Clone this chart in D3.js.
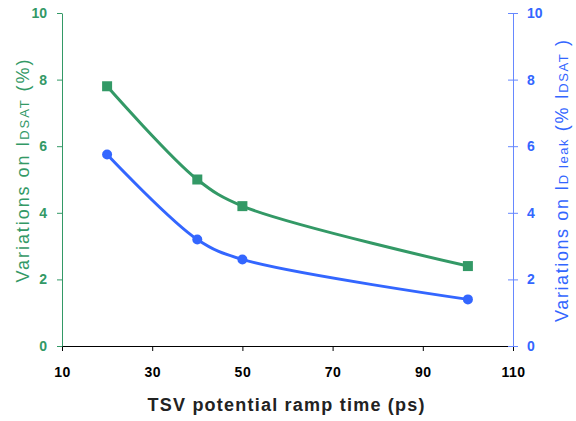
<!DOCTYPE html>
<html>
<head>
<meta charset="utf-8">
<script src="https://cdn.jsdelivr.net/npm/d3@7"></script>
<style>
  body { margin: 0; background: #fff; }
  text { font-family: Arial, "Liberation Sans", Helvetica, sans-serif; }
</style>
</head>
<body>
<svg id="chart"></svg>
<script>
const rampTimes = [20, 40, 50, 100]
const idsatVariation = [7.8, 5.0, 4.2, 2.4]
const ileakVariation = [5.75, 3.2, 2.6, 1.4]
const xTicks = [10, 30, 50, 70, 90, 110]
const yTicks = [0, 2, 4, 6, 8, 10]

const color_green = "#339966"
const color_blue = "#3366ff"
const color_blueAxis = "#6688ff"

const width = 576, height = 421
const margin = { top: 13, right: 63, bottom: 75, left: 62 }

const svg = d3.select("svg#chart")
    .attr("width", width)
    .attr("height", height)

const x = d3.scaleLinear().domain([10, 110]).range([margin.left, width - margin.right])
const yLeft = d3.scaleLinear().domain([0, 10]).range([height - margin.bottom, margin.top])
const yRight = d3.scaleLinear().domain([0, 10]).range(yLeft.range())

const y0 = yLeft(0)

// x axis
const xAxis = svg.append("g")
    .attr("transform", `translate(0,${y0})`)
    .call(d3.axisBottom(x).tickValues(xTicks).tickSize(5).tickPadding(16).tickSizeOuter(0))
xAxis.select(".domain").attr("stroke", "#000")
xAxis.selectAll(".tick line").attr("stroke", "#000")
xAxis.selectAll(".tick text")
    .style("font-size", "14px").style("font-weight", "bold").style("letter-spacing", "0.5px").attr("fill", "#000")

// left axis
const leftAxis = svg.append("g")
    .attr("transform", `translate(${margin.left},0)`)
    .call(d3.axisLeft(yLeft).tickValues(yTicks).tickSize(5).tickPadding(10).tickSizeOuter(0))
leftAxis.selectAll(".domain, .tick line").attr("stroke", color_green)
leftAxis.selectAll(".tick text")
    .style("font-size", "14px").style("font-weight", "bold").attr("fill", color_green)

// right axis, ticks cross the line
const rightX = width - margin.right
const rightAxis = svg.append("g")
    .attr("transform", `translate(${rightX},0)`)
    .call(d3.axisRight(yRight).tickValues(yTicks).tickSize(5).tickPadding(9).tickSizeOuter(0))
rightAxis.selectAll(".domain, .tick line").attr("stroke", color_blueAxis)
rightAxis.selectAll(".tick line").attr("x1", -5)
rightAxis.selectAll(".tick text")
    .style("font-size", "14px").style("font-weight", "bold").attr("fill", color_blue)

// axis titles
svg.append("text")
    .attr("x", 286)
    .attr("y", 411)
    .attr("text-anchor", "middle")
    .attr("textLength", 277)
    .attr("lengthAdjust", "spacing")
    .style("font-size", "18px")
    .style("font-weight", "bold")
    .attr("fill", "#222")
    .text("TSV potential ramp time (ps)")

const leftTitle = svg.append("text")
    .attr("transform", `translate(29,171) rotate(-90)`)
    .attr("text-anchor", "middle")
    .attr("textLength", 223)
    .attr("lengthAdjust", "spacing")
    .style("font-size", "18px")
    .attr("fill", color_green)
leftTitle.append("tspan").text("Variations on I")
leftTitle.append("tspan").style("font-size", "13px").text("DSAT")
leftTitle.append("tspan").text(" (%)")

const rightTitle = svg.append("text")
    .attr("transform", `translate(568,181) rotate(-90)`)
    .attr("text-anchor", "middle")
    .attr("textLength", 282)
    .attr("lengthAdjust", "spacing")
    .style("font-size", "18px")
    .attr("fill", color_blue)
rightTitle.append("tspan").text("Variations on I")
rightTitle.append("tspan").style("font-size", "13px").text("D leak")
rightTitle.append("tspan").text(" (% I")
rightTitle.append("tspan").style("font-size", "13px").text("DSAT")
rightTitle.append("tspan").text(" )")

// series
const idsatData = rampTimes.map((t, i) => ({ t: t, v: idsatVariation[i] }))
const ileakData = rampTimes.map((t, i) => ({ t: t, v: ileakVariation[i] }))

// smoothed lines, centripetal catmull-rom keeps the long last segment almost straight
const lineLeft = d3.line().x(d => x(d.t)).y(d => yLeft(d.v)).curve(d3.curveCatmullRom.alpha(0.5))
const lineRight = d3.line().x(d => x(d.t)).y(d => yRight(d.v)).curve(d3.curveCatmullRom.alpha(0.5))

svg.append("path")
    .attr("d", lineLeft(idsatData))
    .attr("fill", "none")
    .attr("stroke", color_green)
    .attr("stroke-width", 3)

svg.append("path")
    .attr("d", lineRight(ileakData))
    .attr("fill", "none")
    .attr("stroke", color_blue)
    .attr("stroke-width", 3)

svg.selectAll("rect.idsat")
    .data(idsatData)
    .join("rect")
    .attr("class", "idsat")
    .attr("x", d => x(d.t) - 5)
    .attr("y", d => yLeft(d.v) - 5)
    .attr("width", 10)
    .attr("height", 10)
    .attr("fill", color_green)

svg.selectAll("circle.ileak")
    .data(ileakData)
    .join("circle")
    .attr("class", "ileak")
    .attr("cx", d => x(d.t))
    .attr("cy", d => yRight(d.v))
    .attr("r", 5)
    .attr("fill", color_blue)
</script>
</body>
</html>
